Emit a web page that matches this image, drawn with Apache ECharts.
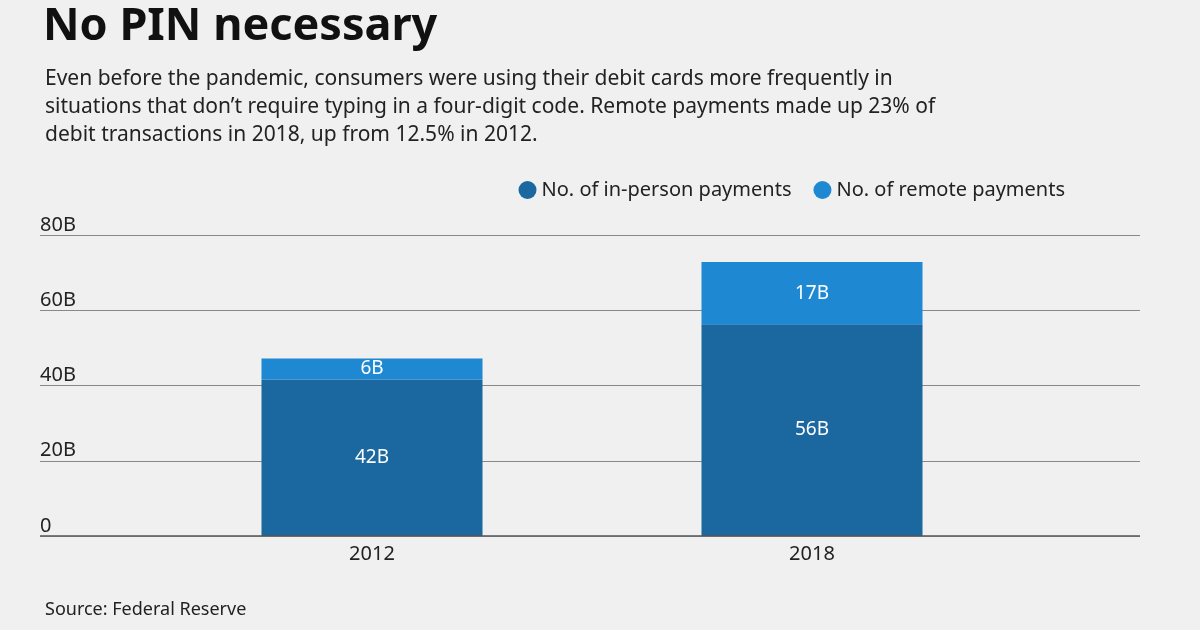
<!DOCTYPE html>
<html><head><meta charset="utf-8">
<script src="https://cdn.jsdelivr.net/npm/echarts@6/dist/echarts.min.js"></script>
<style>html,body{margin:0;padding:0;background:#eff0ef}#c{width:1200px;height:630px}</style>
</head><body><div id="c"></div>
<script>
const categories = ['2012', '2018'];
const inPerson = [41.6, 56.3];
const remote = [5.6, 16.5];
const inPersonLabels = ['42B', '56B'];
const remoteLabels = ['6B', '17B'];
const yTicks = [0, 20, 40, 60, 80];

const chart = echarts.init(document.getElementById('c'));
const font = '"Noto Sans", "Open Sans", sans-serif';
chart.setOption({
  backgroundColor: '#eff0ef',
  textStyle: { fontFamily: font },
  title: [
    { text: 'No PIN necessary', left: 38, top: 0, textStyle: { fontSize: 45, fontWeight: 'bold', color: '#111', fontFamily: font } },
    { text: 'Even before the pandemic, consumers were using their debit cards more frequently in\nsituations that don\u2019t require typing in a four-digit code. Remote payments made up 23% of\ndebit transactions in 2018, up from 12.5% in 2012.',
      left: 40, top: 60, textStyle: { fontSize: 21, fontWeight: 'normal', color: '#222', lineHeight: 28, fontFamily: font } },
    { text: 'Source: Federal Reserve', left: 40, top: 596, textStyle: { fontSize: 18, fontWeight: 'normal', color: '#222', fontFamily: font } }
  ],
  legend: {
    right: 130, top: 175, icon: 'circle', itemWidth: 18, itemHeight: 18, itemGap: 22,
    textStyle: { fontSize: 20, color: '#222' },
    data: ['No. of in-person payments', 'No. of remote payments']
  },
  grid: [
    { left: 40, right: 60, top: 235, height: 301 },
    { left: 152, right: 168, top: 235, height: 301 }
  ],
  xAxis: [
    { gridIndex: 0, type: 'value', show: false, min: 0, max: 1 },
    { gridIndex: 1, type: 'category', data: categories, axisTick: { show: false },
      axisLine: { show: false }, axisLabel: { fontSize: 20, color: '#222', margin: 8 } }
  ],
  yAxis: [
    { gridIndex: 0, type: 'value', min: 0, max: 80, interval: 20,
      axisLine: { show: false }, axisTick: { show: false },
      splitLine: { lineStyle: { color: '#888', width: 1 } },
      axisLabel: { inside: true, verticalAlign: 'bottom', margin: 0, fontSize: 20, color: '#222',
        formatter: v => (yTicks.includes(v) ? (v === 0 ? '0' : v + 'B') : '') } },
    { gridIndex: 1, type: 'value', min: 0, max: 80, show: false }
  ],
  series: [
    { name: 'No. of in-person payments', type: 'bar', stack: 't', xAxisIndex: 1, yAxisIndex: 1,
      barWidth: 221, data: inPerson, itemStyle: { color: '#1b67a0' },
      label: { show: true, color: '#fff', fontSize: 19, formatter: p => inPersonLabels[p.dataIndex] } },
    { name: 'No. of remote payments', type: 'bar', stack: 't', xAxisIndex: 1, yAxisIndex: 1,
      barWidth: 221, data: remote, itemStyle: { color: '#1e88d3' },
      label: { show: true, color: '#fff', fontSize: 19, formatter: p => remoteLabels[p.dataIndex] } },
    { type: 'line', xAxisIndex: 0, yAxisIndex: 0, data: [[0, 0], [1, 0]], symbol: 'none',
      lineStyle: { color: '#555', width: 1.5 }, silent: true, legendHoverLink: false }
  ]
});
</script></body></html>
